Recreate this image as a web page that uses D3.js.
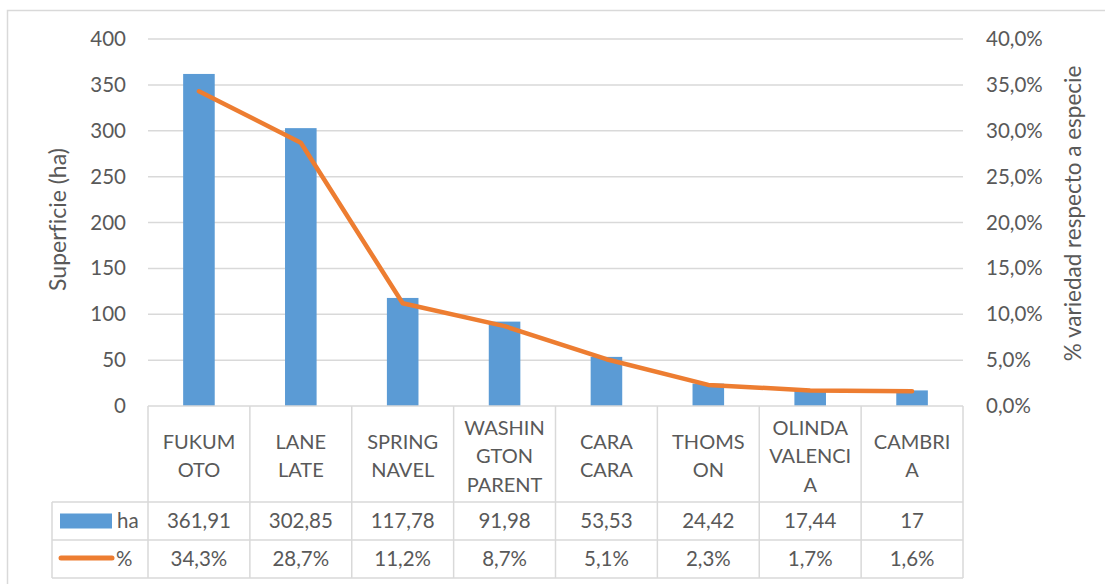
<!DOCTYPE html>
<html>
<head>
<meta charset="utf-8">
<script src="https://cdn.jsdelivr.net/npm/d3@7"></script>
<style>
  html, body { margin: 0; padding: 0; background: #fff; }
  svg { display: block; }
  text { font-family: Lato, "Open Sans", sans-serif; fill: #595959; font-variant-ligatures: none; }
</style>
</head>
<body>
<svg id="chart" width="1105" height="584"></svg>
<script>
// Orange varieties: planted area (ha) and share of the species total (%)
const categories = ["FUKUMOTO", "LANE LATE", "SPRING NAVEL", "WASHINGTON PARENT",
                    "CARA CARA", "THOMSON", "OLINDA VALENCIA", "CAMBRIA"];
const categoryLines = [["FUKUM", "OTO"], ["LANE", "LATE"], ["SPRING", "NAVEL"],
                       ["WASHIN", "GTON", "PARENT"], ["CARA", "CARA"], ["THOMS", "ON"],
                       ["OLINDA", "VALENCI", "A"], ["CAMBRI", "A"]];
const hectares = [361.91, 302.85, 117.78, 91.98, 53.53, 24.42, 17.44, 17];
const hectareLabels = ["361,91", "302,85", "117,78", "91,98", "53,53", "24,42", "17,44", "17"];
const shares = [0.343, 0.287, 0.112, 0.087, 0.051, 0.023, 0.017, 0.016];
const leftTicks = [0, 50, 100, 150, 200, 250, 300, 350, 400];
const rightTicks = [0, 0.05, 0.10, 0.15, 0.20, 0.25, 0.30, 0.35, 0.40];
const seriesNames = ["ha", "%"];

const BLUE = "#5B9BD5", ORANGE = "#ED7D31", GRID = "#D9D9D9";
const esLocale = d3.formatLocale({ decimal: ",", thousands: ".", grouping: [3], currency: ["", "€"] });
const fmtPct = esLocale.format(".1%");

const svg = d3.select("#chart");
const plot = { left: 148, right: 963, top: 39, bottom: 406 };
const rowTops = [406, 502, 540, 578];
const legendLeft = 52;

// chart area frame
svg.append("rect").attr("x", 7.5).attr("y", 10.5).attr("width", 1120).attr("height", 600)
  .attr("fill", "none").attr("stroke", GRID).attr("stroke-width", 1.5);

const x = d3.scaleBand().domain(categories).range([plot.left, plot.right]);
const yLeft = d3.scaleLinear().domain([0, 400]).range([plot.bottom, plot.top]);
const yRight = d3.scaleLinear().domain([0, 0.4]).range([plot.bottom, plot.top]);

// horizontal gridlines
svg.append("g").selectAll("line").data(leftTicks.filter(d => d > 0)).join("line")
  .attr("x1", plot.left).attr("x2", plot.right)
  .attr("y1", d => yLeft(d)).attr("y2", d => yLeft(d))
  .attr("stroke", GRID).attr("stroke-width", 1.5);

// left axis
const leftAxis = svg.append("g").attr("transform", `translate(${plot.left},0)`)
  .call(d3.axisLeft(yLeft).tickValues(leftTicks).tickSize(0).tickPadding(22).tickFormat(d3.format("d")));
leftAxis.select(".domain").remove();
leftAxis.selectAll("text").style("font-size", "20.5px").attr("fill", "#595959")
  .style("font-family", "Lato, sans-serif");

// right axis
const rightAxis = svg.append("g").attr("transform", `translate(${plot.right},0)`)
  .call(d3.axisRight(yRight).tickValues(rightTicks).tickSize(0).tickPadding(23).tickFormat(fmtPct));
rightAxis.select(".domain").remove();
rightAxis.selectAll("text").style("font-size", "20.5px").attr("fill", "#595959")
  .style("font-family", "Lato, sans-serif");

// axis titles
svg.append("text").attr("transform", `translate(66,${(plot.top + plot.bottom) / 2 - 3}) rotate(-90)`)
  .attr("text-anchor", "middle").style("font-size", "23px").text("Superficie (ha)");
svg.append("text").attr("transform", `translate(1081,${(plot.top + plot.bottom) / 2 - 9}) rotate(-90)`)
  .attr("text-anchor", "middle").style("font-size", "22.5px").text("% variedad respecto a especie");

// bars
const barW = x.bandwidth() * 0.31;
svg.append("g").selectAll("rect").data(categories).join("rect")
  .attr("x", (d) => x(d) + (x.bandwidth() - barW) / 2)
  .attr("width", barW)
  .attr("y", (d, i) => yLeft(hectares[i]))
  .attr("height", (d, i) => plot.bottom - yLeft(hectares[i]))
  .attr("fill", BLUE);

// share line
const line = d3.line()
  .x((d, i) => x(categories[i]) + x.bandwidth() / 2)
  .y(d => yRight(d));
svg.append("path").datum(shares).attr("d", line)
  .attr("fill", "none").attr("stroke", ORANGE).attr("stroke-width", 4.5)
  .attr("stroke-linejoin", "round").attr("stroke-linecap", "round");

// data table
const table = svg.append("g").attr("stroke", GRID).attr("stroke-width", 1.5).attr("fill", "none");
// header row + data rows horizontal borders
table.append("line").attr("x1", plot.left).attr("x2", plot.right).attr("y1", rowTops[0]).attr("y2", rowTops[0]);
rowTops.slice(1).forEach(y => {
  table.append("line").attr("x1", legendLeft).attr("x2", plot.right).attr("y1", y).attr("y2", y);
});
// vertical borders
categories.forEach(c => {
  table.append("line").attr("x1", x(c)).attr("x2", x(c)).attr("y1", rowTops[0]).attr("y2", rowTops[3]);
});
table.append("line").attr("x1", plot.right).attr("x2", plot.right).attr("y1", rowTops[0]).attr("y2", rowTops[3]);
table.append("line").attr("x1", legendLeft).attr("x2", legendLeft).attr("y1", rowTops[1]).attr("y2", rowTops[3]);

// category header text
const headerMid = (rowTops[0] + rowTops[1]) / 2 + 2;
const lineH = 28.5;
categories.forEach((c, i) => {
  const lines = categoryLines[i];
  const t = svg.append("text").attr("text-anchor", "middle").style("font-size", "20px");
  lines.forEach((ln, k) => {
    t.append("tspan").attr("x", x(c) + x.bandwidth() / 2)
      .attr("y", headerMid + (k - (lines.length - 1) / 2) * lineH)
      .attr("dy", "0.35em").text(ln);
  });
});

// value rows
const rowMid = k => (rowTops[k] + rowTops[k + 1]) / 2;
svg.append("g").selectAll("text").data(categories).join("text")
  .attr("x", d => x(d) + x.bandwidth() / 2).attr("y", rowMid(1)).attr("dy", "0.35em")
  .attr("text-anchor", "middle").style("font-size", "20.5px")
  .text((d, i) => hectareLabels[i]);
svg.append("g").selectAll("text").data(categories).join("text")
  .attr("x", d => x(d) + x.bandwidth() / 2).attr("y", rowMid(2)).attr("dy", "0.35em")
  .attr("text-anchor", "middle").style("font-size", "20.5px")
  .text((d, i) => fmtPct(shares[i]));

// legend keys inside the table
svg.append("rect").attr("x", 60).attr("y", rowMid(1) - 7.5).attr("width", 52).attr("height", 15).attr("fill", BLUE);
svg.append("line").attr("x1", 61).attr("x2", 112).attr("y1", rowMid(2) - 1).attr("y2", rowMid(2) - 1)
  .attr("stroke", ORANGE).attr("stroke-width", 5).attr("stroke-linecap", "round");
svg.append("text").attr("x", 117).attr("y", rowMid(1)).attr("dy", "0.35em").style("font-size", "20.5px").text(seriesNames[0]);
svg.append("text").attr("x", 116).attr("y", rowMid(2)).attr("dy", "0.35em").style("font-size", "20.5px").text(seriesNames[1]);
</script>
</body>
</html>
